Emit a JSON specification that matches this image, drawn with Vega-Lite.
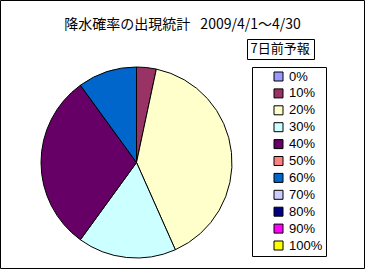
{
  "$schema": "https://vega.github.io/schema/vega-lite/v6.json",
  "autosize": "none",
  "width": 191,
  "height": 191,
  "padding": {"left": 41, "top": 67, "right": 135, "bottom": 12},
  "background": "white",
  "title": {
    "text": "降水確率の出現統計 \u20022009/4/1～4/30",
    "anchor": "middle",
    "frame": "group",
    "dx": 46,
    "baseline": "bottom",
    "offset": -94,
    "fontSize": 14,
    "fontWeight": "normal",
    "font": "Noto Sans CJK JP",
    "color": "black"
  },
  "data": {
    "values": [
      {"pct": "10%", "prob": 10, "days": 1},
      {"pct": "20%", "prob": 20, "days": 12},
      {"pct": "30%", "prob": 30, "days": 5},
      {"pct": "40%", "prob": 40, "days": 9},
      {"pct": "60%", "prob": 60, "days": 3}
    ]
  },
  "layer": [
    {
      "mark": {"type": "arc", "stroke": "black", "strokeWidth": 1},
      "encoding": {
        "theta": {"field": "days", "type": "quantitative", "stack": true},
        "order": {"field": "prob", "type": "quantitative"},
        "color": {
          "field": "pct",
          "type": "nominal",
          "scale": {
            "domain": ["0%", "10%", "20%", "30%", "40%", "50%", "60%", "70%", "80%", "90%", "100%"],
            "range": ["#9999FF", "#993366", "#FFFFCC", "#CCFFFF", "#660066", "#FF8080", "#0066CC", "#CCCCFF", "#000080", "#FF00FF", "#FFFF00"]
          },
          "legend": {
            "title": null,
            "orient": "none",
            "legendX": 211,
            "legendY": 0,
            "strokeColor": "black",
            "fillColor": "white",
            "padding": 3,
            "symbolType": "square",
            "symbolSize": 81,
            "symbolStrokeColor": "black",
            "symbolStrokeWidth": 1,
            "symbolOffset": 17,
            "labelOffset": 4,
            "labelFontSize": 13,
            "labelFont": "Liberation Sans",
            "labelColor": "black",
            "rowPadding": 2.9,
            "labelExpr": "datum.label + '    '"
          }
        }
      }
    },
    {
      "mark": {"type": "point", "opacity": 0},
      "encoding": {
        "shape": {
          "field": "pct",
          "type": "nominal",
          "legend": {
            "title": "7日前予報",
            "values": [],
            "orient": "none",
            "legendX": 206,
            "legendY": -28,
            "strokeColor": "black",
            "fillColor": "white",
            "padding": 3.5,
            "titleFontSize": 13,
            "titleFont": "Noto Sans CJK JP",
            "titleFontWeight": "normal",
            "titleColor": "black",
            "titlePadding": 0
          }
        }
      }
    },
    {
      "transform": [{"filter": "false"}],
      "mark": {"type": "point", "filled": false, "color": "black", "strokeWidth": 1},
      "encoding": {
        "size": {
          "field": "days",
          "type": "quantitative",
          "scale": {"domain": [0, 12], "range": [132496, 132496]},
          "legend": {
            "title": null,
            "values": [1],
            "orient": "none",
            "legendX": -41,
            "legendY": -115,
            "padding": 0,
            "symbolType": "M-1,-0.73626H1V0.73626H-1Z",
            "symbolFillColor": "transparent",
            "symbolStrokeColor": "black",
            "symbolStrokeWidth": 1,
            "symbolOpacity": 1,
            "labelExpr": "''",
            "labelOffset": 0
          }
        }
      }
    }
  ],
  "config": {"view": {"stroke": null}, "font": "Noto Sans CJK JP"}
}
